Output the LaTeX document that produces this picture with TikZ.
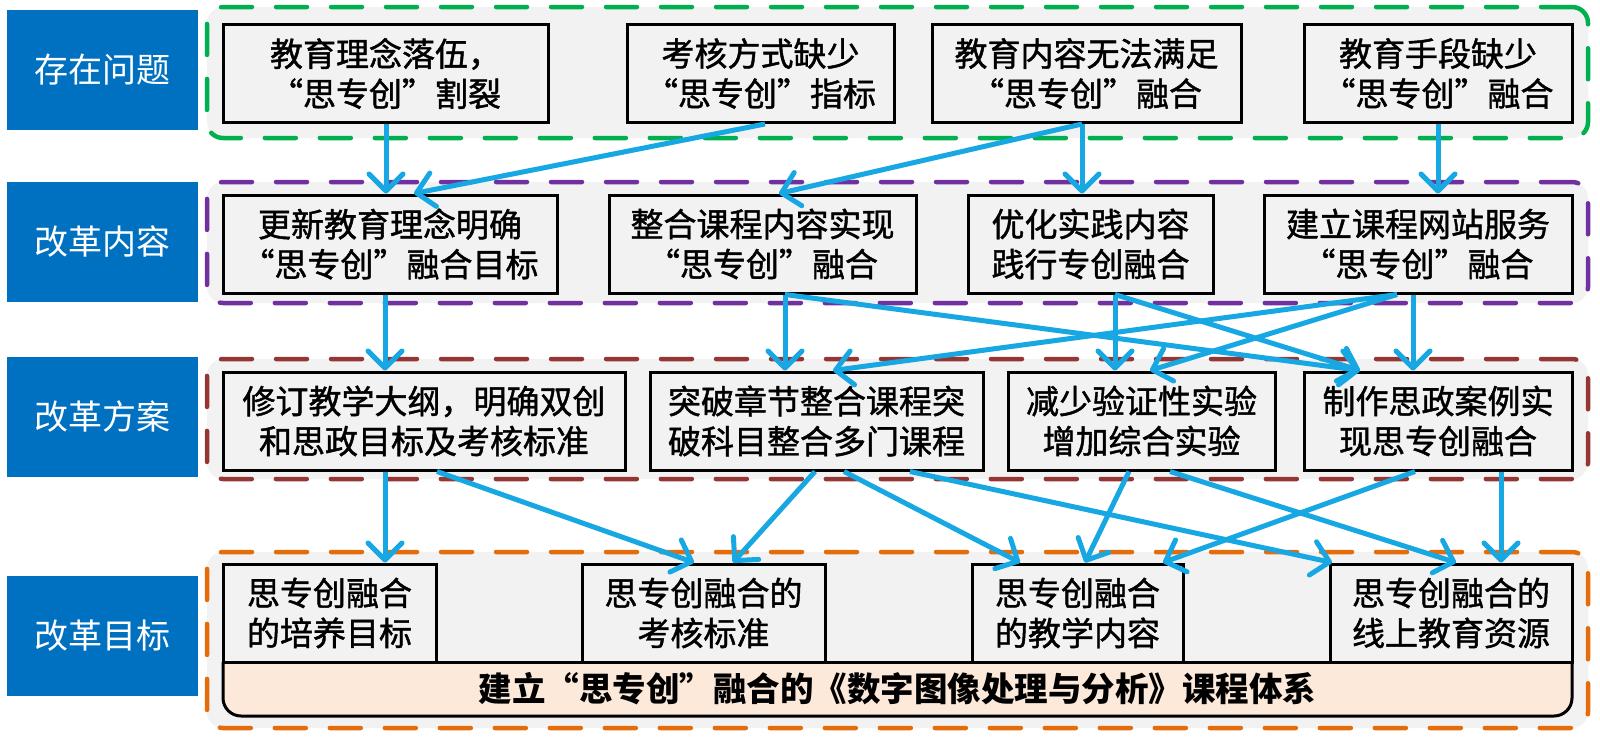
\documentclass[tikz,border=0pt]{standalone}
\usepackage{fontspec}
\newfontfamily\cjk{Noto Sans CJK SC}
\newfontfamily\cjkm{Noto Sans CJK SC}[FakeBold=1.3]
\usetikzlibrary{arrows.meta}
\definecolor{lblblue}{HTML}{0070C0}
\definecolor{panel}{HTML}{F2F2F2}
\definecolor{grn}{HTML}{00B050}
\definecolor{prp}{HTML}{7030A0}
\definecolor{brn}{HTML}{943634}
\definecolor{org}{HTML}{E46C0A}
\definecolor{arrowblue}{HTML}{17A8E3}
\definecolor{peach}{HTML}{FDE9D9}
\begin{document}
\begin{tikzpicture}[x=1pt,y=-1pt,
  frame/.style={draw=#1, line width=4.5pt, line cap=round, dash pattern=on 31pt off 24pt, fill=panel, rounded corners=16pt, inner sep=0pt, minimum width=1381pt},
  box/.style={draw=black, line width=3pt, fill=panel, inner sep=0pt, align=center, font=\cjkm\fontsize{33}{40}\selectfont},
  lbl/.style={fill=lblblue, text=white, inner sep=0pt, minimum width=191pt, minimum height=120pt, font=\cjk\fontsize{34}{40}\selectfont},
  arr/.style={draw=arrowblue, line width=5pt, -{Straight Barb[length=17pt,width=34pt,round]}},
]
\useasboundingbox (0,0) rectangle (1600,739);

% group frames
\node[frame=grn, minimum height=131pt] (g1) at (897.5,72.5) {};
\node[frame=prp, minimum height=121pt] (g2) at (897.5,242.5) {};
\node[frame=brn, minimum height=120pt] (g3) at (897.5,419) {};
\node[frame=org, minimum height=176pt] (g4) at (897.5,640) {};

% row labels
\node[lbl] (l1) at (102.5,70) {存在问题};
\node[lbl] (l2) at (102.5,242) {改革内容};
\node[lbl] (l3) at (102.5,417) {改革方案};
\node[lbl] (l4) at (102.5,636) {改革目标};

% base bar
\begin{scope}
\clip (210,662) rectangle (1585,725);
\draw[line width=3pt, fill=peach, rounded corners=18pt] (223,600) rectangle (1572,716);
\end{scope}
\draw[line width=3pt] (223,662) -- (1572,662);
\node[font=\cjk\bfseries\fontsize{33.5}{40}\selectfont] (base) at (897.5,689) {建立“思专创”融合的《数字图像处理与分析》课程体系};

% row 1
\node[box, minimum width=325pt, minimum height=98pt] (r11) at (385.5,73.5) {教育理念落伍，\\“思专创”割裂};
\node[box, minimum width=267pt, minimum height=98pt] (r12) at (760.5,73.5) {考核方式缺少\\“思专创”指标};
\node[box, minimum width=309pt, minimum height=98pt] (r13) at (1086.5,73.5) {教育内容无法满足\\“思专创”融合};
\node[box, minimum width=268pt, minimum height=98pt] (r14) at (1438,73.5) {教育手段缺少\\“思专创”融合};
% row 2
\node[box, minimum width=334pt, minimum height=98pt] (r21) at (390,244) {更新教育理念明确\\“思专创”融合目标};
\node[box, minimum width=307pt, minimum height=98pt] (r22) at (762.5,244) {整合课程内容实现\\“思专创”融合};
\node[box, minimum width=245pt, minimum height=98pt] (r23) at (1090.5,244) {优化实践内容\\践行专创融合};
\node[box, minimum width=308pt, minimum height=98pt] (r24) at (1418,244) {建立课程网站服务\\“思专创”融合};
% row 3
\node[box, minimum width=402pt, minimum height=98pt] (r31) at (424,421) {修订教学大纲，明确双创\\和思政目标及考核标准};
\node[box, minimum width=333pt, minimum height=98pt] (r32) at (816.5,421) {突破章节整合课程突\\破科目整合多门课程};
\node[box, minimum width=267pt, minimum height=98pt] (r33) at (1141.5,421) {减少验证性实验\\增加综合实验};
\node[box, minimum width=268pt, minimum height=98pt] (r34) at (1438,421) {制作思政案例实\\现思专创融合};
% row 4
\node[box, minimum width=213pt, minimum height=98pt] (r41) at (329.5,613) {思专创融合\\的培养目标};
\node[box, minimum width=243pt, minimum height=98pt] (r42) at (703.5,613) {思专创融合的\\考核标准};
\node[box, minimum width=211pt, minimum height=98pt] (r43) at (1077.5,613) {思专创融合\\的教学内容};
\node[box, minimum width=242pt, minimum height=98pt] (r44) at (1451,613) {思专创融合的\\线上教育资源};

% arrows row1 -> row2
\draw[arr] ([xshift=0.5pt]r11.south) -- ([xshift=-4pt]r21.north);
\draw[arr] ([xshift=4.5pt]r12.south) -- ([xshift=24pt]r21.north);
\draw[arr] ([xshift=-4.5pt]r13.south) -- ([xshift=16.5pt]r22.north);
\draw[arr] ([xshift=-4.5pt]r13.south) -- ([xshift=-8.5pt]r23.north);
\draw[arr] (r14.south) -- ([xshift=20pt]r24.north);
% arrows row2 -> row3
\draw[arr] ([xshift=-5pt]r21.south) -- ([xshift=-39pt]r31.north);
\draw[arr] ([xshift=22.5pt]r22.south) -- ([xshift=-31.5pt]r32.north);
\draw[arr] ([xshift=22.5pt]r22.south) -- ([xshift=-78pt]r34.north);
\draw[arr] ([xshift=24.5pt]r23.south) -- ([xshift=-26.5pt]r33.north);
\draw[arr] ([xshift=24.5pt]r23.south) -- ([xshift=-78pt]r34.north);
\draw[arr] ([xshift=-21pt]r24.south) -- ([xshift=16.5pt]r32.north);
\draw[arr] ([xshift=-21pt]r24.south) -- ([xshift=8.5pt]r33.north);
\draw[arr] ([xshift=-5pt]r24.south) -- ([xshift=-25pt]r34.north);
% arrows row3 -> row4
\draw[arr] ([xshift=-39pt]r31.south) -- ([xshift=55.5pt]r41.north);
\draw[arr] ([xshift=13pt]r31.south) -- ([xshift=-9.5pt]r42.north);
\draw[arr] ([xshift=-1.5pt]r32.south) -- ([xshift=29.5pt]r42.north);
\draw[arr] ([xshift=27.5pt]r32.south) -- ([xshift=-57.5pt]r43.north);
\draw[arr] ([xshift=93.5pt]r32.south) -- ([xshift=-119pt]r44.north);
\draw[arr] ([xshift=-12.5pt]r33.south) -- ([xshift=7.5pt]r43.north);
\draw[arr] ([xshift=28.5pt]r33.south) -- ([xshift=5pt]r44.north);
\draw[arr] ([xshift=-23pt]r34.south) -- ([xshift=85.5pt]r43.north);
\draw[arr] ([xshift=63pt]r34.south) -- ([xshift=50pt]r44.north);
\end{tikzpicture}
\end{document}
